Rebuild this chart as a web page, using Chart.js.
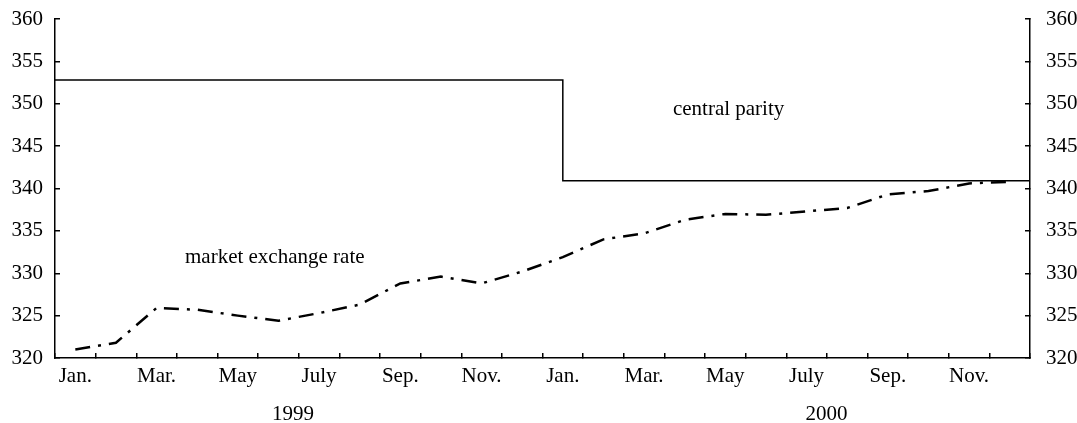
<!DOCTYPE html>
<html>
<head>
<meta charset="utf-8">
<script src="https://cdn.jsdelivr.net/npm/chart.js@4.4.0/dist/chart.umd.min.js"></script>
<style>
  html, body { margin: 0; padding: 0; background: #fff; }
  #wrap { width: 1077px; height: 423px; position: relative; }
</style>
</head>
<body>
<div id="wrap"><canvas id="chart-rate"></canvas></div>
<script>
// months, only every other one gets a label
const months = ["Jan.", "", "Mar.", "", "May", "", "July", "", "Sep.", "", "Nov.", "",
                "Jan.", "", "Mar.", "", "May", "", "July", "", "Sep.", "", "Nov.", ""];
const marketRate = [321.0, 321.8, 325.9, 325.7, 325.0, 324.4, 325.3, 326.3, 328.8, 329.6, 328.8, 330.2,
                    331.9, 334.0, 334.7, 336.3, 337.0, 336.9, 337.3, 337.7, 339.3, 339.7, 340.6, 340.8];
// central parity: month index (edge to edge) and level
const parityX = [-0.5, 12, 23.5];
const parityY = [352.8, 340.9, 340.9];
const yTicks = [320, 325, 330, 335, 340, 345, 350, 355, 360];
const years = ["1999", "2000"];
const yearX = [5.36, 18.49];
const noteText = ["market exchange rate", "central parity"];
const noteX = [2.7, 14.71];
const noteY = [331.9, 349.3];

document.addEventListener("DOMContentLoaded", function () {
  Chart.defaults.font.family = "'Liberation Serif', 'Times New Roman', serif";
  Chart.defaults.color = "#000";

  const ctx = document.getElementById("chart-rate").getContext("2d");

  const textPlugin = {
    id: "notes",
    afterDraw(chart) {
      const c = chart.ctx;
      const xs = chart.scales.xp;
      const ys = chart.scales.y;
      c.save();
      c.fillStyle = "#000";
      c.font = "21px 'Liberation Serif'";
      c.textBaseline = "middle";
      c.textAlign = "left";
      noteText.forEach(function (t, i) {
        c.fillText(t, xs.getPixelForValue(noteX[i]), ys.getPixelForValue(noteY[i]));
      });
      c.textAlign = "center";
      years.forEach(function (t, i) {
        c.fillText(t, xs.getPixelForValue(yearX[i]), chart.chartArea.bottom + 56);
      });
      c.restore();
    },
  };

  const yAxis = function (pos, width, pad) {
    return {
      position: pos,
      min: 320,
      max: 360,
      afterBuildTicks: function (s) { s.ticks = yTicks.map(v => ({ value: v })); },
      afterFit: function (s) {
        s.width = width;
        // tick padding is horizontal here, keep it out of the top/bottom space
        s.paddingTop = 10;
        s.paddingBottom = 10;
      },
      border: { color: "#000", width: 1.5 },
      grid: { drawOnChartArea: false, tickLength: -5, color: "#000", lineWidth: 1.5 },
      ticks: { color: "#000", padding: pad, font: { size: 21 } },
    };
  };

  new Chart(ctx, {
    type: "line",
    data: {
      labels: months,
      datasets: [
        {
          label: "market exchange rate",
          data: marketRate,
          xAxisID: "x",
          yAxisID: "y",
          borderColor: "#000",
          borderWidth: 2.5,
          borderDash: [15, 8, 3, 8],
          pointRadius: 0,
          tension: 0,
          fill: false,
        },
        {
          label: "central parity",
          data: parityX.map((x, i) => ({ x: x, y: parityY[i] })),
          xAxisID: "xp",
          yAxisID: "y",
          borderColor: "#000",
          borderWidth: 1.5,
          pointRadius: 0,
          stepped: true,
          fill: false,
          clip: false,
        },
      ],
    },
    options: {
      responsive: true,
      maintainAspectRatio: false,
      animation: false,
      layout: { padding: { top: 19, left: 0, right: 0, bottom: 0 } },
      plugins: {
        legend: { display: false },
        tooltip: { enabled: false },
      },
      scales: {
        x: {
          type: "category",
          position: "bottom",
          offset: true,
          afterFit: function (s) { s.height = 65; },
          border: { color: "#000", width: 1.5 },
          grid: { offset: true, drawOnChartArea: false, tickLength: -5, color: "#000", lineWidth: 1.5 },
          ticks: { autoSkip: false, maxRotation: 0, padding: 11, color: "#000", font: { size: 21 } },
        },
        xp: {
          type: "linear",
          display: false,
          min: -0.5,
          max: 23.5,
        },
        y: yAxis("left", 55, 17),
        y2: yAxis("right", 47, 21),
      },
    },
    plugins: [textPlugin],
  });
});
</script>
</body>
</html>
